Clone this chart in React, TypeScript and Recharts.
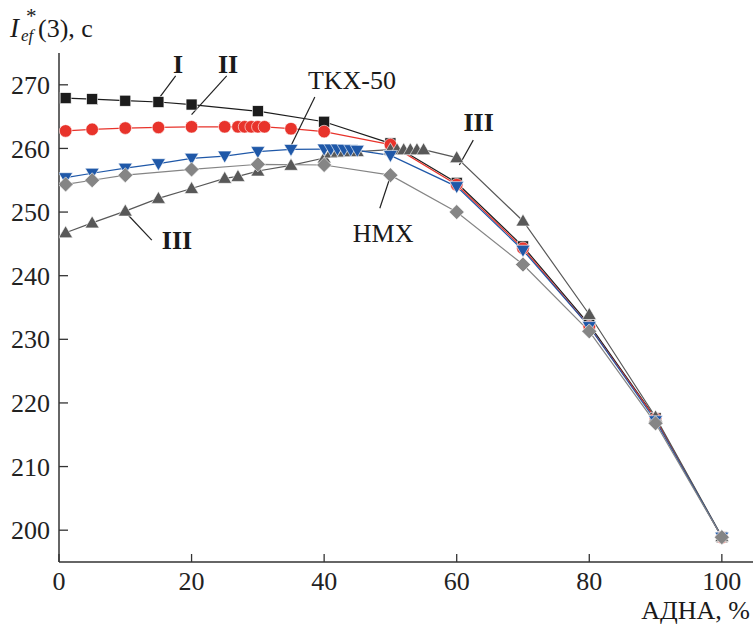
import { LineChart, Line, XAxis, YAxis, ReferenceLine, ReferenceDot } from "recharts";

const X_TICKS = [0, 20, 40, 60, 80, 100];
const Y_TICKS = [200, 210, 220, 230, 240, 250, 260, 270];

// Series I
const xI = [1, 5, 10, 15, 20, 30, 40, 50, 60, 70, 80, 90, 100];
const yI = [267.9, 267.75, 267.5, 267.3, 266.9, 265.85, 264.2, 260.8, 254.6, 244.6, 232.3, 217.6, 198.9];

// Series II
const xII = [1, 5, 10, 15, 20, 25, 27, 28, 29, 30, 31, 35, 40, 50, 60, 70, 80, 90, 100];
const yII = [262.75, 263.0, 263.2, 263.3, 263.4, 263.4, 263.4, 263.4, 263.4, 263.4, 263.4, 263.1, 262.65, 260.6, 254.3, 244.3, 232.0, 217.5, 198.9];

// TKX-50
const xTKX = [1, 5, 10, 15, 20, 25, 30, 35, 40, 41, 42, 43, 44, 45, 50, 60, 70, 80, 90, 100];
const yTKX = [255.4, 256.1, 256.9, 257.6, 258.45, 258.8, 259.5, 259.85, 259.9, 259.9, 259.9, 259.85, 259.8, 259.7, 258.9, 254.0, 244.0, 232.0, 217.2, 198.9];

// Series III
const xIII = [1, 5, 10, 15, 20, 25, 27, 30, 35, 40, 41, 42, 43, 44, 45, 50, 51, 52, 53, 54, 55, 60, 70, 80, 90, 100];
const yIII = [246.75, 248.3, 250.15, 252.15, 253.7, 255.3, 255.6, 256.45, 257.35, 258.5, 259.3, 259.4, 259.45, 259.5, 259.5, 259.8, 259.8, 259.8, 259.8, 259.8, 259.8, 258.55, 248.6, 233.9, 217.8, 199.0];

// HMX
const xHMX = [1, 5, 10, 20, 30, 40, 50, 60, 70, 80, 90, 100];
const yHMX = [254.35, 255.0, 255.8, 256.7, 257.5, 257.4, 255.8, 250.0, 241.75, 231.25, 216.8, 198.9];

const toRows = (xs: number[], ys: number[]) => xs.map((x, i) => ({ x, y: ys[i] }));

const FONT = "Liberation Serif, Times New Roman, serif";

// annotation labels: text, position (data coords), bold
const NOTES = [
  { text: "I", x: 17.95, y: 273.3, bold: true },
  { text: "II", x: 25.5, y: 273.3, bold: true },
  { text: "TKX-50", x: 44.2, y: 270.7, bold: false },
  { text: "III", x: 63.3, y: 264.2, bold: true },
  { text: "III", x: 17.8, y: 245.6, bold: true },
  { text: "HMX", x: 48.9, y: 246.8, bold: false },
];

// leader lines from label to curve
const LEADERS = [
  [{ x: 17.6, y: 271.4 }, { x: 15.1, y: 267.9 }],
  [{ x: 25.3, y: 271.4 }, { x: 20.0, y: 265.3 }],
  [{ x: 38.6, y: 268.1 }, { x: 34.85, y: 260.1 }],
  [{ x: 62.5, y: 261.3 }, { x: 60.4, y: 257.4 }],
  [{ x: 14.0, y: 245.6 }, { x: 9.96, y: 250.05 }],
  [{ x: 48.4, y: 250.6 }, { x: 49.8, y: 255.0 }],
];

const txt = { fontFamily: FONT };

const Square = (p: any) => (
  <rect key={p.key ?? p.index} x={p.cx - 5.5} y={p.cy - 5.5} width={11} height={11} fill="#1c1c1c" stroke="#fff" strokeWidth={0.6} />
);
const Circle = (p: any) => (
  <circle key={p.key ?? p.index} cx={p.cx} cy={p.cy} r={6.3} fill="#e8332b" stroke="#fff" strokeWidth={0.6} />
);
const TriDown = (p: any) => (
  <path key={p.key ?? p.index} d={`M${p.cx - 7},${p.cy - 5} L${p.cx + 7},${p.cy - 5} L${p.cx},${p.cy + 7} Z`} fill="#1f58a8" stroke="#fff" strokeWidth={0.6} />
);
const TriUp = (p: any) => (
  <path key={p.key ?? p.index} d={`M${p.cx - 7},${p.cy + 5} L${p.cx + 7},${p.cy + 5} L${p.cx},${p.cy - 7} Z`} fill="#585858" stroke="#fff" strokeWidth={0.6} />
);
const Diamond = (p: any) => (
  <path key={p.key ?? p.index} d={`M${p.cx},${p.cy - 7.5} L${p.cx + 7.5},${p.cy} L${p.cx},${p.cy + 7.5} L${p.cx - 7.5},${p.cy} Z`} fill="#858585" stroke="#fff" strokeWidth={0.6} />
);

const YTick = ({ x, y, payload }: any) => (
  <g>
    <line x1={x} y1={y} x2={x + 9} y2={y} stroke="#333" strokeWidth={1.3} />
    <text x={x - 9} y={y} dy="0.35em" textAnchor="end" style={txt} fontSize={26} fill="#222">
      {payload.value}
    </text>
  </g>
);

const XTick = ({ x, y, payload }: any) => (
  <g>
    <line x1={x} y1={y} x2={x} y2={y - 8} stroke="#333" strokeWidth={1.3} />
    <text x={x} y={y + 28} textAnchor="middle" style={txt} fontSize={26} fill="#222">
      {payload.value}
    </text>
  </g>
);

export default function App() {
  return (
    <div style={{ position: "absolute", left: 0, top: 0, width: 753, height: 624, background: "#fff", fontFamily: FONT }}>
      <LineChart width={753} height={624} margin={{ top: 53, right: 0, bottom: 32, left: 0 }}>
        <XAxis
          type="number"
          dataKey="x"
          domain={[0, 104.7]}
          ticks={X_TICKS}
          allowDataOverflow
          height={30}
          tickSize={0}
          tickMargin={0}
          tickLine={false}
          tick={<XTick />}
          axisLine={{ stroke: "#333", strokeWidth: 1.5 }}
        />
        <YAxis
          type="number"
          domain={[195, 275]}
          ticks={Y_TICKS}
          allowDataOverflow
          width={59}
          tickSize={0}
          tickMargin={0}
          tickLine={false}
          tick={<YTick />}
          axisLine={{ stroke: "#333", strokeWidth: 1.5 }}
        />
        <Line data={toRows(xI, yI)} dataKey="y" stroke="#1c1c1c" strokeWidth={1.2} dot={Square} isAnimationActive={false} />
        <Line data={toRows(xII, yII)} dataKey="y" stroke="#e8332b" strokeWidth={1.2} dot={Circle} isAnimationActive={false} />
        <Line data={toRows(xIII, yIII)} dataKey="y" stroke="#585858" strokeWidth={1.2} dot={TriUp} isAnimationActive={false} />
        <Line data={toRows(xTKX, yTKX)} dataKey="y" stroke="#1f58a8" strokeWidth={1.2} dot={TriDown} isAnimationActive={false} />
        <Line data={toRows(xHMX, yHMX)} dataKey="y" stroke="#858585" strokeWidth={1.2} dot={Diamond} isAnimationActive={false} />
        {LEADERS.map((seg, i) => (
          <ReferenceLine key={`l${i}`} segment={seg} stroke="#222" strokeWidth={1.2} ifOverflow="visible" />
        ))}
        {NOTES.map((n, i) => (
          <ReferenceDot
            key={`n${i}`}
            x={n.x}
            y={n.y}
            r={0}
            ifOverflow="visible"
            shape={(p: any) => (
              <text
                x={p.cx}
                y={p.cy}
                dy="0.35em"
                textAnchor="middle"
                style={txt}
                fontSize={26}
                fontWeight={n.bold ? 700 : 400}
                fill="#1a1a1a"
              >
                {n.text}
              </text>
            )}
          />
        ))}
      </LineChart>
      <svg width={753} height={624} style={{ position: "absolute", left: 0, top: 0, pointerEvents: "none" }}>
        <text x={10} y={37} style={txt} fontSize={27} fontStyle="italic" fill="#1a1a1a">I</text>
        <text x={21} y={41} style={txt} fontSize={17} fontStyle="italic" fill="#1a1a1a">ef</text>
        <text x={26} y={23} style={txt} fontSize={21} fill="#1a1a1a">*</text>
        <text x={38} y={37} style={txt} fontSize={26} fill="#1a1a1a">(3), с</text>
        <text x={750} y={619} textAnchor="end" style={txt} fontSize={26} fill="#1a1a1a">АДНА, %</text>
      </svg>
    </div>
  );
}
